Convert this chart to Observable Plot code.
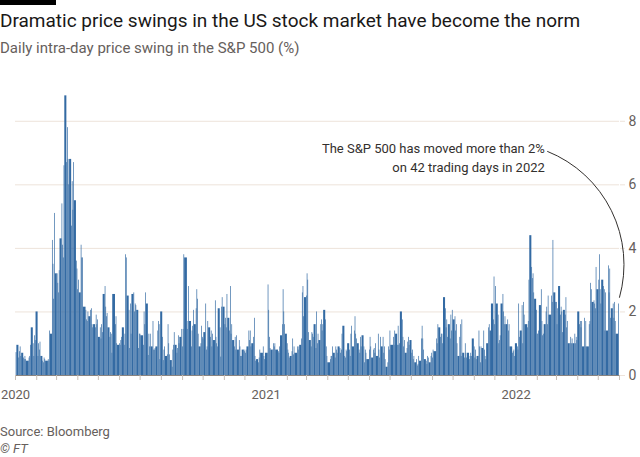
<!DOCTYPE html>
<html><head><meta charset="utf-8">
<script src="https://cdn.jsdelivr.net/npm/d3@7"></script>
<script src="https://cdn.jsdelivr.net/npm/@observablehq/plot@0.6"></script>
<style>
body{margin:0;background:#fff;width:640px;height:457px;overflow:hidden;font-family:Roboto,"Open Sans",sans-serif;color:#33302e;position:relative}
#bar{position:absolute;left:0;top:0;width:56px;height:5px;background:#000}
#title{position:absolute;left:0;top:9px;font-size:19px;line-height:24px;white-space:nowrap;color:#1a1817}
#subtitle{position:absolute;left:0;top:38px;font-size:15px;line-height:20px;color:#66605c;white-space:nowrap}
#chart{position:absolute;left:0;top:60px}
#source{position:absolute;left:0;top:424px;font-size:13px;line-height:16px;color:#66605c}
#ft{position:absolute;left:0;top:441px;font-size:13px;line-height:16px;color:#66605c;font-style:italic}
</style></head>
<body>
<div id="bar"></div>
<div id="title">Dramatic price swings in the US stock market have become the norm</div>
<div id="subtitle">Daily intra-day price swing in the S&amp;P 500 (%)</div>
<div id="chart"></div>
<div id="source">Source: Bloomberg</div>
<div id="ft">© FT</div>
<script>
const holidays = ["2020-01-01","2020-01-20","2020-02-17","2020-04-10","2020-05-25","2020-07-03","2020-09-07","2020-11-26","2020-12-25",
"2021-01-01","2021-01-18","2021-02-15","2021-04-02","2021-05-31","2021-07-05","2021-09-06","2021-11-25","2021-12-24",
"2022-01-17","2022-02-21","2022-04-15","2022-05-30"];

const swing2020 = [
0.72,0.95,0.55,0.75,0.9,0.6,0.7,0.55,0.5,0.6,0.5,0.45,0.55,0.6,0.95,1.5,1.0,0.6,1.25,1.1,2.0,
0.6,1.0,0.8,1.05,0.6,0.45,0.4,0.55,0.5,0.45,0.5,0.45,1.4,1.3,4.25,3.5,2.4,5.1,3.2,
3.2,2.9,2.6,3.3,4.3,5.4,4.1,3.7,6.6,8.8,6.7,7.8,6.8,6.0,6.8,4.7,6.1,5.2,6.7,5.5,3.6,3.35,
2.7,3.0,2.6,4.1,3.7,3.7,2.15,2.05,1.75,1.7,2.0,1.85,2.05,2.1,1.6,1.5,1.6,1.5,1.9,1.6,1.75,
1.2,1.5,1.15,1.6,1.35,2.55,2.8,2.15,1.85,1.95,1.5,1.2,1.35,1.3,0.7,2.55,1.6,1.85,1.0,0.95,
1.0,0.95,1.1,1.2,1.5,0.95,1.3,3.8,3.7,2.5,2.05,0.85,2.25,1.3,2.55,2.6,2.0,2.25,2.2,2.05,0.85,1.3,
1.3,1.25,0.95,2.0,1.6,2.6,2.25,0.63,1.3,0.9,1.3,0.9,1.7,0.8,0.8,0.85,0.9,1.4,1.7,1.6,0.5,2.0,
1.2,0.47,0.8,0.9,0.6,0.65,1.6,1.0,0.65,0.47,0.26,0.8,0.95,1.35,0.95,0.7,0.85,1.25,1.0,1.2,1.45,
0.9,1.45,3.8,3.7,1.45,1.7,2.8,1.7,0.9,1.4,1.55,2.05,1.6,2.1,2.7,2.4,1.3,0.9,1.0,1.55,1.2,
1.15,1.35,2.25,0.8,0.9,1.7,1.5,1.2,1.4,0.9,1.3,1.1,2.35,1.2,1.0,0.9,2.1,1.5,0.58,2.15,2.45,2.15,
1.6,1.8,1.5,2.55,1.8,1.4,2.8,1.3,1.6,1.1,0.9,1.2,0.8,1.25,0.8,1.1,0.9,0.6,0.8,0.8,
0.75,0.7,0.8,0.9,1.4,1.1,1.4,0.9,1.0,1.2,1.8,0.6,0.45,0.5,0.4,0.55,0.8,0.7,0.9,0.6,0.5,0.7];

const swing2021 = [
2.85,2.05,1.2,0.85,0.8,0.8,1.0,0.9,1.0,0.8,0.75,0.7,0.9,1.25,1.6,2.7,2.0,1.6,1.3,
1.0,0.8,0.7,0.55,0.6,0.75,1.15,0.65,0.9,0.7,0.9,0.8,0.9,0.95,1.15,2.6,2.8,1.85,2.45,
2.5,3.2,3.0,1.35,1.1,0.9,1.35,1.3,1.2,1.6,0.85,2.0,1.0,1.3,1.1,1.6,1.75,1.4,1.6,2.05,1.75,0.9,0.6,
0.4,0.5,0.6,0.6,0.9,0.7,0.55,0.9,0.8,0.7,0.9,0.85,0.7,0.8,1.3,1.55,0.6,0.55,0.8,0.75,1.0,
0.8,0.6,1.3,1.55,0.9,1.4,1.85,1.3,1.15,1.0,0.8,0.7,1.2,0.9,1.25,0.9,0.4,0.8,0.7,0.5,
0.8,1.2,0.9,0.55,0.8,0.85,0.7,1.0,0.6,1.3,0.8,0.55,1.2,0.9,1.2,0.7,0.9,0.5,0.26,0.4,0.9,0.8,
1.4,0.95,1.2,0.95,1.4,1.3,0.95,1.55,0.95,1.0,2.0,1.75,1.2,0.9,1.1,0.7,0.85,1.05,1.2,0.95,1.1,
0.7,0.8,0.5,0.6,0.4,0.5,0.3,0.35,0.6,0.45,1.15,1.55,1.15,0.8,0.5,0.45,0.35,0.6,0.55,0.4,0.6,0.7,
0.55,0.8,0.75,1.15,1.0,1.6,1.5,1.2,1.3,1.3,1.0,2.45,2.1,1.5,1.75,1.2,1.6,1.15,1.9,1.4,2.05,
1.75,1.85,1.4,1.6,1.0,0.6,1.2,1.6,0.6,1.75,0.7,0.55,1.0,0.7,0.55,0.7,0.5,0.6,0.7,0.6,1.15,
0.9,0.55,0.8,0.5,0.6,1.4,0.9,0.4,0.9,0.85,1.4,0.8,0.6,0.5,1.0,1.5,1.6,1.4,2.25,1.75,3.1,
1.6,2.8,2.25,1.9,1.0,1.1,1.25,2.25,2.55,2.0,1.6,1.85,1.6,1.75,1.4,1.6,0.9,0.7,0.75,0.8,0.6,1.0];

const swing2022 = [
0.9,0.8,2.25,1.2,1.4,2.2,1.0,2.3,1.9,1.6,1.5,1.7,3.0,4.4,3.4,3.05,3.2,2.6,2.4,2.05,
1.3,1.3,1.4,2.2,2.7,1.7,1.25,1.3,1.6,2.0,2.15,1.6,2.5,1.9,2.5,2.3,4.25,2.6,2.3,
2.3,1.6,2.1,2.8,1.9,2.15,2.0,1.35,2.05,1.9,2.45,1.5,1.7,1.0,1.0,1.2,1.0,1.15,1.0,1.3,1.0,1.2,1.1,
2.0,1.6,1.7,1.5,1.7,0.9,1.8,0.9,1.7,0.9,1.6,1.7,2.9,2.7,2.3,2.35,2.25,2.1,3.4,2.7,
3.0,3.8,2.7,2.25,3.0,2.8,2.7,1.4,2.6,1.4,3.45,2.6,3.35,1.8,2.1,2.25,1.8,2.3,1.7,1.3,2.25];

const yTicks = [0, 2, 4, 6, 8];
const noteText = ["The S&P 500 has moved more than 2%", "on 42 trading days in 2022"];
const noteAt = {date: "2022-02-12", value: 6.9};
const arrowFrom = {date: "2022-02-16", value: 7.05};
const arrowTo = {date: "2022-06-01", value: 2.46};

const startDate = new Date("2020-01-01"), endDate = new Date("2022-06-01");
const dates = d3.utcDay.range(new Date("2020-01-02"), endDate)
  .filter(d => d.getUTCDay() % 6 !== 0 && !holidays.includes(d.toISOString().slice(0, 10)));
const values = [...swing2020, ...swing2021, ...swing2022];
const data = dates.map((d, i) => ({date: d, next: i + 1 < dates.length ? dates[i + 1] : endDate, value: values[i]}));

const ink = "#66605c";
const chart = Plot.plot({
  width: 640, height: 350,
  marginLeft: 15, marginRight: 21, marginTop: 29, marginBottom: 35,
  style: {fontFamily: "Roboto, 'Open Sans', sans-serif", fontSize: "13px", color: ink, background: "transparent"},
  x: {type: "utc", domain: [startDate, endDate]},
  y: {domain: [0, 9]},
  marks: [
    Plot.ruleY(yTicks, {stroke: "#ede3da"}),
    Plot.rectY(data, {x1: "date", x2: "next", y: "value", fill: "#336aa3"}),
    Plot.ruleY([0], {stroke: "#8a8480"}),
    Plot.axisX({ticks: d3.utcMonth.range(startDate, d3.utcDay.offset(endDate, 1)), tickSize: 5, tickPadding: 9,
      stroke: "#c9bfb6", fill: ink, fontSize: 13,
      tickFormat: d => d.getUTCMonth() === 0 ? String(d.getUTCFullYear()) : "", label: null}),
    Plot.axisY({anchor: "right", ticks: yTicks, tickSize: 5, tickPadding: 4, stroke: "#ede3da", fill: ink, fontSize: 14, label: null}),
    Plot.text([noteText.join("\n")], {x: () => new Date(noteAt.date), y: () => noteAt.value, text: d => d,
      textAnchor: "end", lineAnchor: "middle", lineHeight: 1.45, fontSize: 13, fill: "#33302e"}),
    Plot.arrow([0], {x1: () => new Date(arrowFrom.date), y1: () => arrowFrom.value,
      x2: () => new Date(arrowTo.date), y2: () => arrowTo.value, bend: 42, headLength: 0, stroke: "#33302e", strokeWidth: 1})
  ]
});
document.getElementById("chart").appendChild(chart);
</script>
</body></html>
